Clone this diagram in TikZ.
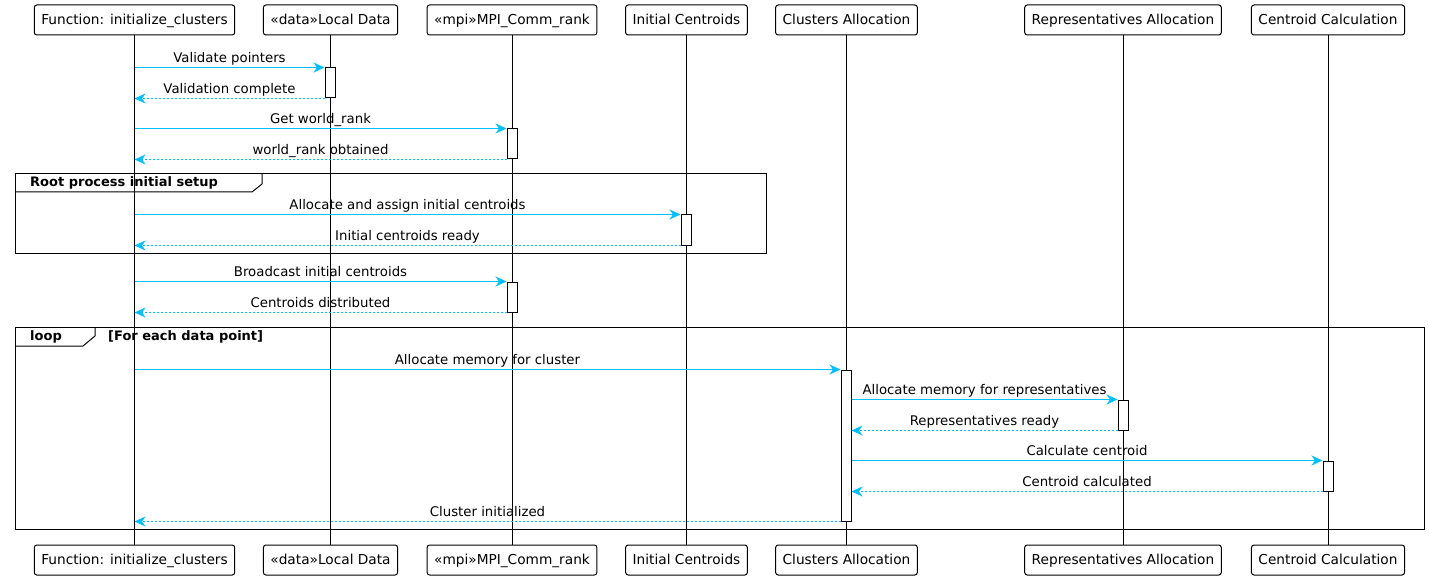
\documentclass[tikz,border=0pt]{standalone}
\usepackage{fontspec}
\setmainfont{DejaVu Sans}
\usetikzlibrary{arrows.meta}
\definecolor{msgblue}{HTML}{00BFFF}

\begin{document}
\begin{tikzpicture}[x=1pt,y=-1pt,
  part node/.style={draw,rounded corners=2.5pt,fill=white,line width=1pt,minimum height=30pt,text height=11pt,text depth=2pt,inner xsep=7pt,font=\fontsize{13.7}{16}\selectfont},
  act node/.style={draw,fill=white,line width=1pt,minimum width=10pt,minimum height=30pt,inner sep=0pt},
  msg/.style={draw=msgblue,line width=1.8pt,-{Stealth[length=11pt,width=10pt,inset=3.5pt]}},
  ret/.style={msg,dash pattern=on 2pt off 2pt},
  lbl/.style={above,inner sep=1pt,text depth=3pt,font=\fontsize{13.3}{15}\selectfont,text=black},
  title node/.style={anchor=west,inner sep=0pt,font=\bfseries\fontsize{13}{15}\selectfont}]
  \useasboundingbox (0,0) rectangle (1429,580);

  % participants, top and bottom
  \node[part node] at (134.5,20) (fn) {Function: initialize\_clusters};
  \node[part node] at (330.5,20) (ld) {«data»Local Data};
  \node[part node] at (512,20) (mpi) {«mpi»MPI\_Comm\_rank};
  \node[part node] at (686.5,20) (ic) {Initial Centroids};
  \node[part node] at (846.5,20) (ca) {Clusters Allocation};
  \node[part node] at (1123,20) (ra) {Representatives Allocation};
  \node[part node] at (1328,20) (cc) {Centroid Calculation};

  \node[part node] at (134.5,560) (fnb) {Function: initialize\_clusters};
  \node[part node] at (330.5,560) (ldb) {«data»Local Data};
  \node[part node] at (512,560) (mpib) {«mpi»MPI\_Comm\_rank};
  \node[part node] at (686.5,560) (icb) {Initial Centroids};
  \node[part node] at (846.5,560) (cab) {Clusters Allocation};
  \node[part node] at (1123,560) (rab) {Representatives Allocation};
  \node[part node] at (1328,560) (ccb) {Centroid Calculation};

  % lifelines
  \path[line width=1pt]
  (fn) edge (fnb)
  (ld) edge (ldb)
  (mpi) edge (mpib)
  (ic) edge (icb)
  (ca) edge (cab)
  (ra) edge (rab)
  (cc) edge (ccb);

  % groups
  \draw[line width=1pt] (15,174) rectangle (766,253);
  \draw[line width=1pt] (15,192) -- (252,192) -- (262,184) -- (262,174);
  \node[title node] at (30,183) (rootlbl) {Root process initial setup};

  \draw[line width=1pt] (15,327) rectangle (1424,529);
  \draw[line width=1pt] (15,346) -- (83,346) -- (95,336) -- (95,327);
  \node[title node] at (30,337) (looplbl) {loop};
  \node[title node] at (108,337) (guardlbl) {[For each data point]};

  % activations
  \node[act node] at (330,83) (a1) {};
  \node[act node] at (512,144) (a2) {};
  \node[act node] at (686,230) (a3) {};
  \node[act node] at (512,297) (a4) {};
  \node[act node,minimum height=151pt] at (846,445.5) (a5) {};
  \node[act node] at (1123,415) (a6) {};
  \node[act node] at (1328,476) (a7) {};

  % messages
  \draw[msg] (a1.north west -| fn) -- node[lbl] {Validate pointers} (a1.north west);
  \draw[ret] (a1.south west) -- node[lbl] {Validation complete} (a1.south west -| fn);
  \draw[msg] (a2.north west -| fn) -- node[lbl] {Get world\_rank} (a2.north west);
  \draw[ret] (a2.south west) -- node[lbl] {world\_rank obtained} (a2.south west -| fn);
  \draw[msg] (a3.north west -| fn) -- node[lbl] {Allocate and assign initial centroids} (a3.north west);
  \draw[ret] (a3.south west) -- node[lbl] {Initial centroids ready} (a3.south west -| fn);
  \draw[msg] (a4.north west -| fn) -- node[lbl] {Broadcast initial centroids} (a4.north west);
  \draw[ret] (a4.south west) -- node[lbl] {Centroids distributed} (a4.south west -| fn);
  \draw[msg] (a5.north west -| fn) -- node[lbl] {Allocate memory for cluster} (a5.north west);
  \draw[msg] (a6.north west -| a5.east) -- node[lbl] {Allocate memory for representatives} (a6.north west);
  \draw[ret] (a6.south west) -- node[lbl] {Representatives ready} (a6.south west -| a5.east);
  \draw[msg] (a7.north west -| a5.east) -- node[lbl] {Calculate centroid} (a7.north west);
  \draw[ret] (a7.south west) -- node[lbl] {Centroid calculated} (a7.south west -| a5.east);
  \draw[ret] (a5.south west) -- node[lbl] {Cluster initialized} (a5.south west -| fn);
\end{tikzpicture}
\end{document}
